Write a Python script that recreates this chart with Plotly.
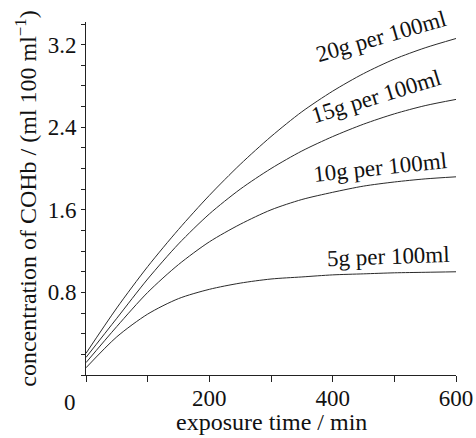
import plotly.graph_objects as go

# exposure time (min)
time_min = [0, 50, 100, 150, 200, 250, 300, 350, 400, 450, 500, 550, 600]

# COHb concentration (ml per 100 ml) for each haemoglobin level
cohb_20g = [0.21, 0.65, 1.05, 1.41, 1.74, 2.04, 2.31, 2.55, 2.75, 2.92, 3.06, 3.17, 3.26]
cohb_15g = [0.17, 0.55, 0.93, 1.27, 1.56, 1.80, 2.00, 2.17, 2.31, 2.43, 2.53, 2.61, 2.67]
cohb_10g = [0.12, 0.47, 0.80, 1.07, 1.29, 1.46, 1.60, 1.70, 1.77, 1.83, 1.87, 1.90, 1.92]
cohb_5g = [0.07, 0.37, 0.59, 0.74, 0.83, 0.89, 0.93, 0.95, 0.97, 0.98, 0.99, 0.995, 1.00]

series_names = ["20g per 100ml", "15g per 100ml", "10g per 100ml", "5g per 100ml"]
series_values = [cohb_20g, cohb_15g, cohb_10g, cohb_5g]

x_tick_vals = [200, 400, 600]
x_tick_text = ["200", "400", "600"]
origin_label = "0"
y_tick_vals = [0.8, 1.6, 2.4, 3.2]
y_tick_text = ["0.8", "1.6", "2.4", "3.2"]
x_title = "exposure time / min"
y_title = "concentration of COHb / (ml 100 ml<sup>−1</sup>)"

# label anchor points (time, concentration) and rotation
label_pos = [(479, 3.28, -16), (471, 2.70, -17), (476, 2.01, -6), (490, 1.15, -2)]

FONT = "Liberation Serif, Times New Roman, serif"

fig = go.Figure()
for name, vals in zip(series_names, series_values):
    fig.add_trace(go.Scatter(
        x=time_min, y=vals, mode="lines", name=name,
        line=dict(color="#2a2a2a", width=1, shape="spline", smoothing=0.8),
        showlegend=False,
    ))

for name, (lx, ly, ang) in zip(series_names, label_pos):
    fig.add_annotation(x=lx, y=ly, text=name, showarrow=False, textangle=ang,
                       font=dict(family=FONT, size=23, color="#111"))

fig.add_annotation(x=0, y=0, text=origin_label, showarrow=False,
                   xanchor="right", yanchor="top", xshift=-8, yshift=-13,
                   font=dict(family=FONT, size=23, color="#111"))

# x-axis title placed just below tick labels
fig.add_annotation(x=0.5, xref="paper", y=-0.177, yref="paper", text=x_title,
                   showarrow=False, xanchor="center", yanchor="bottom",
                   font=dict(family=FONT, size=24, color="#111"))

fig.update_layout(
    width=476, height=438,
    margin=dict(l=86, r=20, t=22, b=63),
    paper_bgcolor="white", plot_bgcolor="white",
    font=dict(family=FONT, size=23, color="#111"),
    xaxis=dict(
        range=[0, 600], tickvals=x_tick_vals, ticktext=x_tick_text,
        showgrid=False, zeroline=False, showline=True, linecolor="#222", linewidth=1,
        ticks="outside", ticklen=6, tickcolor="#222", automargin=False,
        ticklabelstandoff=-4,
        minor=dict(dtick=100, ticks="outside", ticklen=6, tickcolor="#222", showgrid=False),
        tickfont=dict(family=FONT, size=23),
    ),
    yaxis=dict(
        range=[0, 3.42], tickvals=y_tick_vals, ticktext=y_tick_text,
        showgrid=False, zeroline=False, showline=True, linecolor="#222", linewidth=1,
        ticks="outside", ticklen=4, tickcolor="#222", automargin=False,
        minor=dict(dtick=0.2, ticks="outside", ticklen=4, tickcolor="#222", showgrid=False),
        tickfont=dict(family=FONT, size=23),
        title=dict(text=y_title, font=dict(family=FONT, size=24), standoff=4),
    ),
)

fig.write_html("out.html", config={"displayModeBar": False},
               post_script="document.body.style.margin='0';document.body.style.overflow='hidden';")
